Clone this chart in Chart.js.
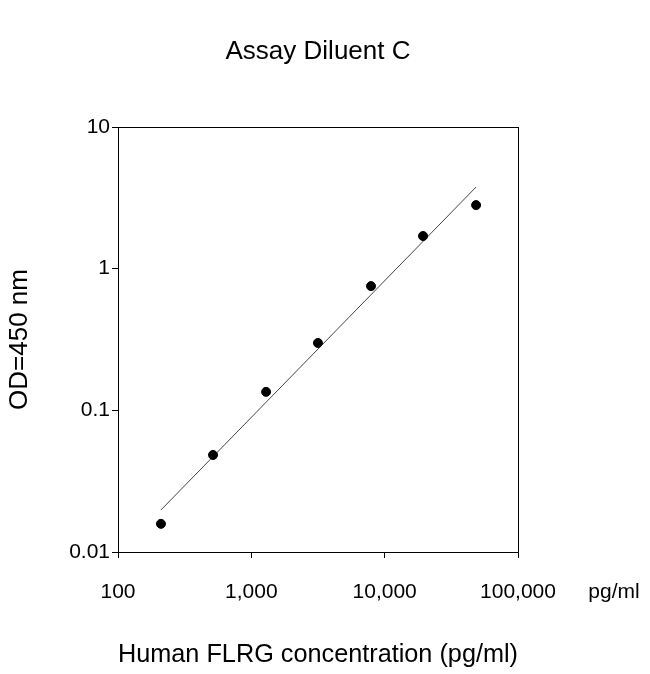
<!DOCTYPE html>
<html>
<head>
<script src="https://cdn.jsdelivr.net/npm/chart.js@4"></script>
<style>
body { margin: 0; background: #fff; }
#wrap { width: 650px; height: 674px; }
</style>
</head>
<body>
<div id="wrap"><canvas id="chart"></canvas></div>
<script>
const concentration = [210, 516, 1290, 3160, 7900, 19400, 48500];
const odValues = [0.0158, 0.0484, 0.135, 0.299, 0.753, 1.70, 2.81];
const fitX = [210, 48500];
const fitY = [0.0198, 3.77];
const xTicks = [100, 1000, 10000, 100000];
const yTicks = [0.01, 0.1, 1, 10];

const font = "'Liberation Sans', Arial, sans-serif";

const extras = {
	id: "extras",
	afterDraw(chart)
	{
		const ctx = chart.ctx;
		const a = chart.chartArea;
		ctx.save();
		ctx.strokeStyle = "#000";
		ctx.lineWidth = 1;
		ctx.strokeRect(a.left + 0.5, a.top + 0.5, a.right - a.left, a.bottom - a.top);
		ctx.fillStyle = "#000";
		ctx.textAlign = "center";
		ctx.textBaseline = "middle";
		ctx.font = "26px " + font;
		ctx.fillText("Assay Diluent C", 318, 52);
		ctx.font = "21px " + font;
		ctx.fillText("pg/ml", 614, 592);
		ctx.restore();
	}
};

new Chart(document.getElementById("chart"), {
	type: "scatter",
	data: {
		datasets: [
			{
				label: "Standard",
				data: concentration.map((x, i) => ({ x: x, y: odValues[i] })),
				backgroundColor: "#000",
				borderColor: "#000",
				pointRadius: 4.5
			},
			{
				label: "Fit",
				data: fitX.map((x, i) => ({ x: x, y: fitY[i] })),
				showLine: true,
				borderColor: "#444",
				borderWidth: 1,
				pointRadius: 0
			}
		]
	},
	plugins: [extras],
	options: {
		responsive: true,
		maintainAspectRatio: false,
		animation: false,
		layout: { padding: { top: 127, right: 132, left: 0, bottom: 0 } },
		plugins: { legend: { display: false }, tooltip: { enabled: false } },
		scales: {
			x: {
				type: "logarithmic",
				min: 100,
				max: 100000,
				afterBuildTicks: s => { s.ticks = xTicks.map(v => ({ value: v })); },
				afterFit: s => { s.height = 122; },
				grid: { display: true, drawOnChartArea: false, drawTicks: true, tickLength: 6, color: "#000" },
				border: { color: "#000" },
				ticks: {
					color: "#000",
					font: { family: font, size: 21 },
					padding: 22,
					maxRotation: 0,
					callback: v => v.toLocaleString("en-US")
				},
				title: {
					display: true,
					text: "Human FLRG concentration (pg/ml)",
					color: "#000",
					font: { family: font, size: 26 },
					padding: { top: 28 }
				}
			},
			y: {
				type: "logarithmic",
				min: 0.01,
				max: 10,
				afterBuildTicks: s => { s.ticks = yTicks.map(v => ({ value: v })); },
				afterFit: s => { s.width = 118; },
				grid: { display: true, drawOnChartArea: false, drawTicks: true, tickLength: 6, color: "#000" },
				border: { color: "#000" },
				ticks: {
					color: "#000",
					font: { family: font, size: 21 },
					padding: 2,
					callback: v => String(v)
				},
				title: {
					display: true,
					text: "OD=450 nm",
					color: "#000",
					font: { family: font, size: 26 },
					padding: { bottom: 10 }
				}
			}
		}
	}
});
</script>
</body>
</html>
